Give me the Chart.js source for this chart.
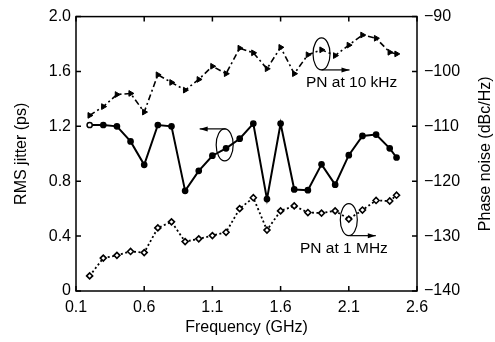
<!DOCTYPE html>
<html>
<head>
<meta charset="utf-8">
<script src="https://cdn.jsdelivr.net/npm/chart.js@4/dist/chart.umd.min.js"></script>
<style>
  html, body { margin: 0; padding: 0; background: #fff; }
  #wrap { width: 495px; height: 342px; }
</style>
</head>
<body>
<div id="wrap"><canvas id="jitterChart"></canvas></div>
<script>
const freqGHz = [0.2, 0.3, 0.4, 0.5, 0.6, 0.7, 0.8, 0.9, 1.0, 1.1, 1.2, 1.3, 1.4, 1.5, 1.6, 1.7, 1.8, 1.9, 2.0, 2.1, 2.2, 2.3, 2.4, 2.45];
const rmsJitter = [1.21, 1.21, 1.2, 1.09, 0.92, 1.21, 1.2, 0.73, 0.876, 0.986, 1.04, 1.11, 1.22, 0.67, 1.22, 0.74, 0.735, 0.923, 0.775, 0.99, 1.13, 1.14, 1.04, 0.973];
const pn10kHz = [-108.0, -106.4, -104.2, -104.0, -107.4, -100.6, -102.0, -103.4, -101.45, -99.05, -100.4, -95.75, -96.6, -99.5, -95.6, -100.4, -96.95, -96.05, -97.1, -95.2, -93.35, -93.95, -96.5, -96.8];
const pn1MHz = [-137.25, -134.0, -133.5, -132.8, -133.0, -128.5, -127.4, -131.0, -130.5, -129.9, -129.3, -125.0, -123.0, -128.9, -125.4, -124.5, -125.7, -125.8, -125.4, -126.9, -125.25, -123.5, -123.6, -122.55];

const xTickValues = [0.1, 0.6, 1.1, 1.6, 2.1, 2.6];
const jitterTicks = [0, 0.4, 0.8, 1.2, 1.6, 2.0];
const pnTicks = [-140, -130, -120, -110, -100, -90];

const FONT = 'Liberation Sans, Arial, Helvetica, sans-serif';
const FS = 16;

function toPoints(ys) {
    return freqGHz.map((f, i) => ({ x: f, y: ys[i] }));
}

// inward tick marks, closed box, right title and the ellipse annotations
const matlabFrame = {
    id: 'matlabFrame',
    afterDatasetsDraw(chart) {
        const { ctx, chartArea: a, scales } = chart;
        ctx.save();
        ctx.strokeStyle = '#000';
        ctx.lineWidth = 1.5;
        ctx.setLineDash([]);
        ctx.strokeRect(a.left, a.top, a.right - a.left, a.bottom - a.top);

        const tl = 5;
        ctx.beginPath();
        xTickValues.forEach(v => {
            const px = scales.x.getPixelForValue(v);
            ctx.moveTo(px, a.bottom); ctx.lineTo(px, a.bottom - tl);
            ctx.moveTo(px, a.top); ctx.lineTo(px, a.top + tl);
        });
        jitterTicks.forEach(v => {
            const py = scales.y.getPixelForValue(v);
            ctx.moveTo(a.left, py); ctx.lineTo(a.left + tl, py);
        });
        pnTicks.forEach(v => {
            const py = scales.y2.getPixelForValue(v);
            ctx.moveTo(a.right, py); ctx.lineTo(a.right - tl, py);
        });
        ctx.stroke();

        // ellipses + arrows
        ctx.lineWidth = 1.2;
        const ellipse = (cx, cy) => {
            ctx.beginPath();
            ctx.ellipse(cx, cy, 8.5, 16, 0, 0, Math.PI * 2);
            ctx.stroke();
        };
        const arrow = (x0, y0, x1, y1) => {
            ctx.beginPath();
            ctx.moveTo(x0, y0); ctx.lineTo(x1, y1);
            ctx.stroke();
            const dir = Math.sign(x1 - x0);
            ctx.beginPath();
            ctx.moveTo(x1, y1);
            ctx.lineTo(x1 - dir * 8, y1 - 2.5);
            ctx.lineTo(x1 - dir * 8, y1 + 2.5);
            ctx.closePath();
            ctx.fillStyle = '#000';
            ctx.fill();
        };

        const e1x = scales.x.getPixelForValue(1.19), e1y = scales.y.getPixelForValue(1.065);
        ellipse(e1x, e1y);
        arrow(e1x + 1, e1y - 16, e1x - 25, e1y - 16);

        const e2x = scales.x.getPixelForValue(1.9), e2y = scales.y2.getPixelForValue(-96.8);
        ellipse(e2x, e2y);
        arrow(e2x, e2y + 16, e2x + 28, e2y + 16);

        const e3x = scales.x.getPixelForValue(2.1), e3y = scales.y2.getPixelForValue(-127.0);
        ellipse(e3x, e3y);
        arrow(e3x + 1, e3y + 16, e3x + 27, e3y + 16);

        ctx.fillStyle = '#000';
        ctx.font = '15.5px ' + FONT;
        ctx.textAlign = 'left';
        ctx.textBaseline = 'middle';
        ctx.fillText('PN at 10 kHz', 306, 83);
        ctx.fillText('PN at 1 MHz', 300, 249);

        // right axis title reads bottom-to-top
        ctx.font = FS + 'px ' + FONT;
        ctx.textAlign = 'center';
        ctx.translate(486, (a.top + a.bottom) / 2);
        ctx.rotate(-Math.PI / 2);
        ctx.fillText('Phase noise (dBc/Hz)', 0, 0);
        ctx.restore();
    }
};

const ctx = document.getElementById('jitterChart').getContext('2d');

new Chart(ctx, {
    type: 'line',
    data: {
        datasets: [
            {
                label: 'RMS jitter',
                data: toPoints(rmsJitter),
                yAxisID: 'y',
                borderColor: '#000',
                borderWidth: 2,
                pointStyle: 'circle',
                pointRadius: 2.6,
                pointBackgroundColor: rmsJitter.map((v, i) => i === 0 ? '#fff' : '#000'),
                pointBorderColor: '#000',
                pointBorderWidth: 1.5,
                tension: 0
            },
            {
                label: 'PN at 10 kHz',
                data: toPoints(pn10kHz),
                yAxisID: 'y2',
                borderColor: '#000',
                borderWidth: 1.6,
                borderDash: [6, 3, 2, 3],
                pointStyle: 'triangle',
                rotation: 90,
                pointRadius: 3.3,
                pointBackgroundColor: '#000',
                pointBorderColor: '#000',
                pointBorderWidth: 1,
                tension: 0
            },
            {
                label: 'PN at 1 MHz',
                data: toPoints(pn1MHz),
                yAxisID: 'y2',
                borderColor: '#000',
                borderWidth: 1.8,
                borderDash: [2, 2.5],
                pointStyle: 'rectRot',
                pointRadius: 3,
                pointBackgroundColor: '#fff',
                pointBorderColor: '#000',
                pointBorderWidth: 1.6,
                tension: 0
            }
        ]
    },
    options: {
        responsive: true,
        maintainAspectRatio: false,
        animation: false,
        events: [],
        layout: { padding: { top: 13, right: 0, left: 0, bottom: 0 } },
        plugins: {
            legend: { display: false },
            tooltip: { enabled: false }
        },
        scales: {
            x: {
                type: 'linear',
                min: 0.1,
                max: 2.6,
                afterBuildTicks: s => { s.ticks = xTickValues.map(v => ({ value: v })); },
                afterFit: s => { s.height = 51; },
                grid: { display: false, drawTicks: false },
                border: { display: false },
                ticks: {
                    color: '#000',
                    padding: 7,
                    maxRotation: 0,
                    font: { family: FONT, size: FS },
                    callback: v => v.toFixed(1)
                },
                title: {
                    display: true,
                    text: 'Frequency (GHz)',
                    color: '#000',
                    padding: { top: 0, bottom: 5 },
                    font: { family: FONT, size: FS }
                }
            },
            y: {
                position: 'left',
                min: 0,
                max: 2,
                afterBuildTicks: s => { s.ticks = jitterTicks.map(v => ({ value: v })); },
                afterFit: s => { s.width = 76; },
                grid: { display: false, drawTicks: false },
                border: { display: false },
                ticks: {
                    color: '#000',
                    padding: 5,
                    font: { family: FONT, size: FS },
                    callback: v => v === 0 ? '0' : v.toFixed(1)
                },
                title: {
                    display: true,
                    text: 'RMS jitter (ps)',
                    color: '#000',
                    padding: { top: 12, bottom: 0 },
                    font: { family: FONT, size: FS }
                }
            },
            y2: {
                position: 'right',
                min: -140,
                max: -90,
                afterBuildTicks: s => { s.ticks = pnTicks.map(v => ({ value: v })); },
                afterFit: s => { s.width = 78; },
                grid: { display: false, drawTicks: false },
                border: { display: false },
                ticks: {
                    color: '#000',
                    padding: 7,
                    font: { family: FONT, size: FS },
                    callback: v => '\u2212' + Math.abs(v)
                }
            }
        }
    },
    plugins: [matlabFrame]
});
</script>
</body>
</html>
